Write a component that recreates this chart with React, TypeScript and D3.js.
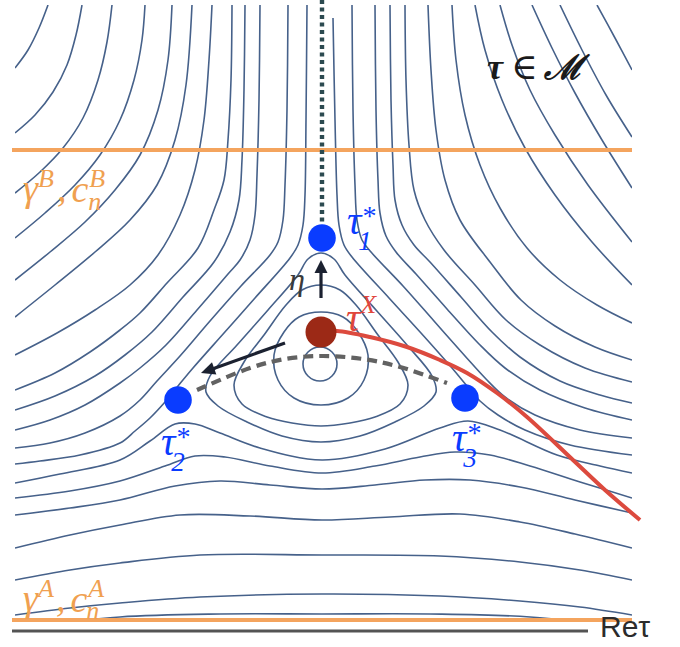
import React, { useEffect } from "react";
import * as d3 from "d3";

type Pt = [number, number];

// Window of the moduli-space plane that is shown (Re τ, Im τ)
const reDomain: [number, number] = [-3.07, 3.1];
const imDomain: [number, number] = [0, 6.26];
const imClipLow = 0.1;

// Closed level curves around the critical point
const loopContours: Pt[][] = [
  [[-0.02,2.84],[0.10,2.79],[0.15,2.67],[0.10,2.55],[-0.02,2.50],[-0.14,2.55],[-0.19,2.67],[-0.14,2.79]],
  [[-0.01,3.19],[0.21,3.14],[0.36,2.99],[0.46,2.76],[0.42,2.51],[0.26,2.33],[-0.01,2.26],[-0.28,2.33],[-0.44,2.51],[-0.48,2.76],[-0.38,2.99],[-0.23,3.14]],
  [[-0.01,3.46],[0.18,3.41],[0.34,3.26],[0.56,2.96],[0.76,2.69],[0.86,2.46],[0.78,2.27],[0.53,2.14],[0.28,2.08],[-0.01,2.05],[-0.30,2.08],[-0.55,2.14],[-0.80,2.27],[-0.88,2.46],[-0.78,2.69],[-0.58,2.96],[-0.36,3.26],[-0.20,3.41]],
  [[-0.01,3.78],[0.12,3.72],[0.23,3.56],[0.54,3.21],[0.85,2.86],[1.10,2.55],[1.14,2.39],[1.02,2.25],[0.73,2.09],[0.38,1.95],[-0.01,1.89],[-0.40,1.95],[-0.75,2.09],[-1.04,2.25],[-1.16,2.39],[-1.12,2.55],[-0.85,2.86],[-0.54,3.21],[-0.24,3.56],[-0.14,3.72]],
];

// Level curves of the upper-left wall (top edge -> left edge)
const upperLeftContours: Pt[][] = [
  [[-2.74,6.26],[-2.83,6.03],[-2.94,5.81],[-3.07,5.63]],
  [[-2.40,6.26],[-2.46,5.96],[-2.55,5.66],[-2.69,5.39],[-2.87,5.16],[-3.07,4.98]],
  [[-2.10,6.26],[-2.15,5.89],[-2.24,5.51],[-2.39,5.13],[-2.59,4.83],[-2.82,4.59],[-3.07,4.38]],
  [[-1.77,6.26],[-1.80,5.91],[-1.88,5.51],[-2.02,5.11],[-2.22,4.76],[-2.47,4.46],[-2.77,4.18],[-3.07,3.93]],
  [[-1.50,6.26],[-1.54,5.71],[-1.64,5.21],[-1.82,4.76],[-2.07,4.41],[-2.37,4.09],[-2.72,3.79],[-3.07,3.51]],
  [[-1.30,6.26],[-1.36,5.46],[-1.47,4.91],[-1.65,4.46],[-1.92,4.11],[-2.27,3.79],[-2.67,3.46],[-3.07,3.14]],
  [[-1.10,6.26],[-1.13,5.71],[-1.18,5.11],[-1.27,4.61],[-1.42,4.16],[-1.64,3.76],[-1.92,3.46],[-2.27,3.21],[-2.65,2.98],[-3.07,2.76]],
  [[-0.90,6.26],[-0.91,5.51],[-0.94,4.91],[-0.98,4.51],[-1.08,4.21],[-1.24,3.83],[-1.55,3.48],[-1.82,3.18],[-2.02,3.01],[-2.32,2.79],[-2.67,2.58],[-3.07,2.41]],
  [[-0.77,6.26],[-0.78,5.41],[-0.80,4.71],[-0.83,4.31],[-0.92,3.99],[-1.08,3.69],[-1.39,3.34],[-1.70,2.99],[-1.97,2.76],[-2.27,2.55],[-2.67,2.35],[-3.07,2.21]],
  [[-0.62,6.26],[-0.63,5.31],[-0.65,4.56],[-0.67,4.16],[-0.72,3.91],[-0.82,3.71],[-0.94,3.57],[-1.25,3.21],[-1.56,2.86],[-1.82,2.63],[-2.02,2.48],[-2.37,2.26],[-2.72,2.11],[-3.07,2.01]],
  [[-0.34,6.26],[-0.35,5.21],[-0.37,4.46],[-0.39,4.11],[-0.44,3.89],[-0.52,3.76],[-0.81,3.45],[-1.12,3.10],[-1.42,2.75],[-1.65,2.50],[-1.82,2.31],[-2.02,2.15],[-2.37,1.98],[-2.72,1.88],[-3.07,1.83]],
  [[-0.15,6.26],[-0.16,5.11],[-0.17,4.36],[-0.19,4.06],[-0.24,3.86],[-0.32,3.73],[-0.67,3.33],[-0.98,2.98],[-1.29,2.63],[-1.44,2.45],[-1.57,2.29],[-1.72,2.13],[-1.87,2.00],[-2.02,1.88],[-2.42,1.76],[-2.82,1.70],[-3.07,1.67]],
];

// Level curves of the upper-right wall (top edge -> right edge)
const upperRightContours: Pt[][] = [
  [[2.75,6.26],[2.93,5.93],[3.10,5.61]],
  [[2.38,6.26],[2.60,5.81],[2.84,5.36],[3.10,4.94]],
  [[2.10,6.26],[2.30,5.83],[2.53,5.38],[2.80,4.91],[3.10,4.43]],
  [[1.78,6.26],[1.90,5.86],[2.08,5.41],[2.33,4.96],[2.66,4.46],[3.10,3.89]],
  [[1.53,6.26],[1.63,5.81],[1.80,5.31],[2.03,4.83],[2.33,4.36],[2.70,3.89],[3.10,3.46]],
  [[1.30,6.26],[1.34,5.71],[1.43,5.16],[1.58,4.66],[1.78,4.23],[2.05,3.83],[2.38,3.51],[2.75,3.26],[3.10,3.08]],
  [[1.06,6.26],[1.09,5.61],[1.14,5.01],[1.23,4.51],[1.38,4.11],[1.68,3.69],[1.99,3.31],[2.33,3.05],[2.73,2.84],[3.10,2.71]],
  [[0.83,6.26],[0.84,5.51],[0.87,4.86],[0.92,4.41],[1.03,4.11],[1.22,3.81],[1.53,3.46],[1.84,3.11],[2.18,2.86],[2.63,2.63],[3.10,2.49]],
  [[0.68,6.26],[0.69,5.31],[0.71,4.66],[0.73,4.31],[0.80,4.06],[0.92,3.86],[1.08,3.69],[1.39,3.34],[1.70,2.99],[1.98,2.74],[2.38,2.50],[2.78,2.36],[3.10,2.28]],
  [[0.53,6.26],[0.54,5.21],[0.56,4.51],[0.58,4.18],[0.64,3.95],[0.74,3.79],[0.94,3.57],[1.25,3.22],[1.57,2.87],[1.83,2.63],[2.18,2.41],[2.63,2.23],[3.10,2.11]],
  [[0.30,6.26],[0.31,5.21],[0.33,4.46],[0.35,4.11],[0.40,3.91],[0.49,3.79],[0.81,3.45],[1.12,3.10],[1.43,2.75],[1.64,2.52],[1.83,2.34],[2.13,2.16],[2.58,2.01],[3.10,1.93]],
  [[0.11,6.13],[0.13,5.11],[0.15,4.36],[0.17,4.06],[0.22,3.86],[0.30,3.74],[0.67,3.33],[0.99,2.98],[1.30,2.63],[1.45,2.45],[1.58,2.30],[1.76,2.16],[2.03,2.01],[2.48,1.86],[3.10,1.76]],
];

// Level curves of the lower wall (left edge -> right edge)
const lowerContours: Pt[][] = [
  [[-3.07,1.48],[-2.62,1.57],[-2.02,1.71],[-1.72,1.90],[-1.47,2.07],[-1.27,2.07],[-1.02,1.98],[-0.62,1.83],[0,1.71],[0.63,1.82],[1.18,2.03],[1.46,2.10],[1.78,2.01],[2.35,1.76],[2.78,1.65],[3.10,1.58]],
  [[-3.07,1.33],[-2.52,1.40],[-2.02,1.50],[-1.57,1.65],[-1.27,1.75],[-0.97,1.74],[-0.52,1.65],[0,1.58],[0.53,1.65],[0.98,1.74],[1.33,1.79],[1.68,1.76],[2.08,1.65],[2.58,1.49],[3.10,1.33]],
  [[-3.07,1.16],[-2.52,1.23],[-2.02,1.31],[-1.47,1.45],[-1.02,1.50],[-0.52,1.46],[0,1.42],[0.53,1.46],[1.03,1.51],[1.48,1.51],[1.98,1.44],[2.53,1.31],[3.10,1.18]],
  [[-3.07,0.83],[-2.52,0.96],[-2.02,1.06],[-1.42,1.16],[-0.72,1.15],[0,1.11],[0.68,1.14],[1.38,1.17],[1.98,1.09],[2.53,0.97],[3.10,0.83]],
  [[-3.07,0.51],[-2.52,0.61],[-2.02,0.68],[-1.22,0.76],[0,0.76],[1.18,0.75],[1.98,0.69],[2.58,0.61],[3.10,0.51]],
  [[-3.07,0.16],[-2.52,0.23],[-2.02,0.28],[-1.22,0.34],[0,0.37],[1.18,0.35],[1.98,0.30],[2.58,0.24],[3.10,0.16]],
  [[-2.82,0.05],[-2.02,0.14],[-1.02,0.17],[0,0.17],[1.08,0.17],[2.08,0.14],[2.88,0.05]],
];

// Critical points
const saddlePoints: { id: string; re: number; im: number }[] = [
  { id: "1", re: 0.0, im: 3.93 },
  { id: "2", re: -1.44, im: 2.31 },
  { id: "3", re: 1.43, im: 2.33 },
];
const tauX: Pt = [-0.01, 2.99];

// Paths
const tauXPath: Pt[] = [[-0.01,2.99],[0.15,3.0],[0.48,2.94],[0.85,2.84],[1.18,2.71],[1.45,2.58],[1.75,2.38],[2.05,2.14],[2.51,1.71],[2.83,1.41],[3.18,1.11]];
const thimbleUp: Pt[] = [[0, 6.31], [0, 4.06]];
const thimbleArc: Pt[] = [[-1.25,2.41],[-0.72,2.63],[-0.37,2.72],[0,2.75],[0.41,2.72],[0.78,2.64],[1.25,2.48]];
const cycleBIm = 4.81;
const cycleAIm = 0.11;
const cycleRe: [number, number] = [-3.1, 3.1];
const realAxisRe: [number, number] = [-3.1, 2.66];
const etaArrow: [Pt, Pt] = [[-0.01, 3.33], [-0.01, 3.71]];
const flowArrow: [Pt, Pt] = [[-0.37, 2.88], [-1.21, 2.58]];

const serif = "'Liberation Serif', 'DejaVu Serif', serif";
const contourColor = "#46618a";
const orange = "#f4a45e";
const blue = "#0a3cff";

function headPoints(tail: Pt, tip: Pt, len: number, half: number) {
  const dx = tip[0] - tail[0];
  const dy = tip[1] - tail[1];
  const L = Math.hypot(dx, dy);
  const ux = dx / L, uy = dy / L;
  const bx = tip[0] - ux * len, by = tip[1] - uy * len;
  return {
    poly: `${tip[0]},${tip[1]} ${bx - uy * half},${by + ux * half} ${bx + uy * half},${by - ux * half}`,
    base: [bx + ux * 2, by + uy * 2] as Pt,
  };
}

export default function App() {
  useEffect(() => {
    document.body.style.margin = "0";
  }, []);
  const W = 680, H = 647;
  const x = d3.scaleLinear().domain(reDomain).range([15, 632]);
  const y = d3.scaleLinear().domain(imDomain).range([631, 5]);
  const open = d3.line<Pt>().x((d) => x(d[0])).y((d) => y(d[1])).curve(d3.curveCatmullRom.alpha(0.5));
  const closed = d3.line<Pt>().x((d) => x(d[0])).y((d) => y(d[1])).curve(d3.curveCatmullRomClosed.alpha(0.5));
  const straight = d3.line<Pt>().x((d) => x(d[0])).y((d) => y(d[1]));

  const clipX0 = x(reDomain[0]), clipX1 = x(reDomain[1]);
  const clipY0 = y(imDomain[1]), clipY1 = y(imClipLow);

  const arrow = (a: [Pt, Pt], len: number, half: number) => {
    const tail: Pt = [x(a[0][0]), y(a[0][1])];
    const tip: Pt = [x(a[1][0]), y(a[1][1])];
    const h = headPoints(tail, tip, len, half);
    return (
      <g>
        <line x1={tail[0]} y1={tail[1]} x2={h.base[0]} y2={h.base[1]} stroke="#1b2130" strokeWidth={3.2} />
        <polygon points={h.poly} fill="#1b2130" />
      </g>
    );
  };

  const s = (i: number) => saddlePoints[i];

  const saddleLabel = (i: number, dx: number, dy: number, subDx: number) => (
    <text key={"sl" + i} x={x(s(i).re) + dx} y={y(s(i).im) + dy} fontSize={40}>
      τ
      <tspan fontSize={28} dy={-9}>*</tspan>
      <tspan fontSize={27} dx={subDx} dy={25}>{s(i).id}</tspan>
    </text>
  );

  return (
    <svg width={W} height={H} style={{ position: "absolute", left: 0, top: 0, display: "block", background: "#fff" }}>
      <defs>
        <clipPath id="plotClip">
          <rect x={clipX0} y={clipY0} width={clipX1 - clipX0} height={clipY1 - clipY0} />
        </clipPath>
      </defs>
      <rect x={0} y={0} width={W} height={H} fill="#fff" />
      <g clipPath="url(#plotClip)" fill="none" stroke={contourColor} strokeWidth={1.6}>
        {loopContours.map((c, i) => <path key={"l" + i} d={closed(c) || ""} />)}
        {upperLeftContours.map((c, i) => <path key={"ul" + i} d={open(c) || ""} />)}
        {upperRightContours.map((c, i) => <path key={"ur" + i} d={open(c) || ""} />)}
        {lowerContours.map((c, i) => <path key={"lo" + i} d={open(c) || ""} />)}
      </g>

      {/* integration cycles */}
      <line x1={x(cycleRe[0])} x2={x(cycleRe[1])} y1={y(cycleBIm)} y2={y(cycleBIm)} stroke={orange} strokeWidth={4} />
      <line x1={x(cycleRe[0])} x2={x(cycleRe[1])} y1={y(cycleAIm)} y2={y(cycleAIm)} stroke={orange} strokeWidth={4} />
      {/* real axis */}
      <line x1={x(realAxisRe[0])} x2={x(realAxisRe[1])} y1={y(0)} y2={y(0)} stroke="#545454" strokeWidth={3.2} />

      {/* thimbles */}
      <path d={straight(thimbleUp) || ""} fill="none" stroke="#2c4a50" strokeWidth={4.4} strokeDasharray="4 3.5" />
      <path d={open(thimbleArc) || ""} fill="none" stroke="#626262" strokeWidth={4.2} strokeDasharray="10 6" />

      {/* flow of τ^X */}
      <path d={open(tauXPath) || ""} fill="none" stroke="#dc4a3e" strokeWidth={4} />

      {arrow(etaArrow, 13, 6.5)}
      {arrow(flowArrow, 14, 6.5)}

      {saddlePoints.map((p) => (
        <circle key={p.id} cx={x(p.re)} cy={y(p.im)} r={13.8} fill={blue} />
      ))}
      <circle cx={x(tauX[0])} cy={y(tauX[1])} r={15.5} fill="#9c2916" />

      {/* labels of the saddles */}
      <g fill={blue} fontFamily={serif} fontStyle="italic">
        {saddleLabel(0, 25, -4, -17)}
        {saddleLabel(1, -17, 55, -18)}
        {saddleLabel(2, -13, 53, -17)}
      </g>
      <text x={x(tauX[0]) + 25} y={y(tauX[1]) - 1} fill="#e0463c" fontFamily={serif} fontStyle="italic" fontSize={40}>
        τ<tspan fontSize={26} dy={-18}>X</tspan>
      </text>
      <text x={x(-0.33)} y={y(3.41)} fontSize={32} fontFamily={serif} fontStyle="italic" fill="#3a3a3a">η</text>

      {/* cycle labels */}
      <g fill="#f0a050" fontFamily={serif} fontStyle="italic">
        <text x={x(-2.99)} y={y(4.30)} fontSize={38}>
          γ<tspan fontSize={26} dy={-14}>B</tspan>
          <tspan dx={3} dy={14}>,</tspan>
          <tspan dx={5} dy={1}>c</tspan>
          <tspan fontSize={26} dx={1} dy={-15}>B</tspan>
          <tspan fontSize={26} dx={-17} dy={23}>n</tspan>
        </text>
        <text x={x(-2.99)} y={y(0.20)} fontSize={38}>
          γ<tspan fontSize={26} dy={-14}>A</tspan>
          <tspan dx={2} dy={14}>,</tspan>
          <tspan dx={5} dy={1}>c</tspan>
          <tspan fontSize={26} dx={1} dy={-15}>A</tspan>
          <tspan fontSize={26} dx={-18} dy={22}>n</tspan>
        </text>
      </g>

      <text x={x(1.65)} y={y(5.52)} fontFamily={serif} fill="#1a1a1a" fontSize={36}>
        <tspan fontStyle="italic" fontWeight="bold">τ</tspan>
        <tspan dx={8}>∈</tspan>
        <tspan dx={6} fontFamily="'DejaVu Serif', serif" fontStyle="italic" fontWeight="bold" fontSize={34}>ℳ</tspan>
      </text>

      <text x={x(2.78)} y={y(-0.06)} fontFamily="'Liberation Sans', Arial, sans-serif" fontSize={30} fill="#2b2b2b">Reτ</text>
    </svg>
  );
}
